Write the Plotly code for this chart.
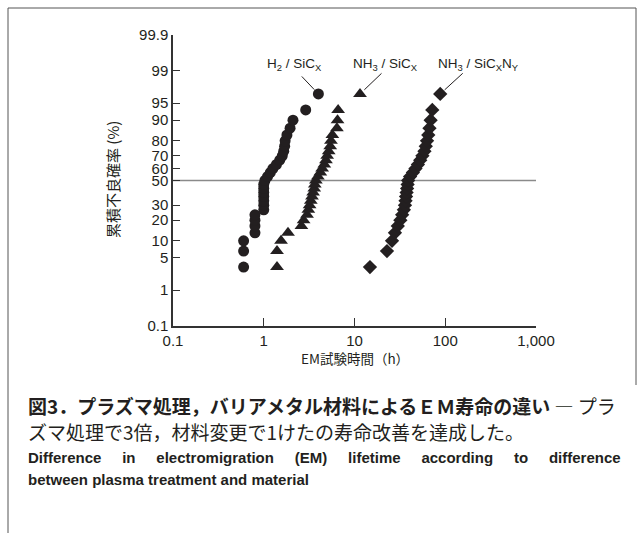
import math
import plotly.graph_objects as go
from statistics import NormalDist

# ---------------- data ----------------
# cumulative failure probability (%) – median ranks, 29 samples per series
h2_pct = [3.3, 6.7, 10.0, 13.3, 16.7, 20.0, 23.3, 26.7, 30.0, 33.3, 36.7, 40.0, 43.3, 46.7, 50.0,
          53.3, 56.7, 60.0, 63.3, 66.7, 70.0, 73.3, 76.7, 80.0, 83.3, 86.7, 90.0, 93.3, 96.7]
h2_time = [0.60, 0.60, 0.60, 0.80, 0.80, 0.80, 0.80, 1.00, 1.00, 1.00, 1.00, 1.00, 1.00, 1.00, 1.03,
           1.10, 1.18, 1.26, 1.38, 1.50, 1.60, 1.66, 1.70, 1.72, 1.80, 1.95, 2.10, 2.90, 4.00]

nh3_sicx_pct = [3.3, 6.7, 10.0, 13.3, 16.7, 20.0, 23.3, 26.7, 30.0, 33.3, 36.7, 40.0, 43.3, 46.7, 50.0,
                53.3, 56.7, 60.0, 63.3, 66.7, 70.0, 73.3, 76.7, 80.0, 83.3, 86.7, 90.0, 93.3, 96.7]
nh3_sicx_time = [1.40, 1.40, 1.55, 1.85, 2.60, 2.75, 3.00, 3.10, 3.20, 3.30, 3.40, 3.50, 3.60, 3.65, 3.75,
                 3.95, 4.20, 4.40, 4.65, 4.85, 5.00, 5.20, 5.40, 5.50, 5.70, 6.40, 6.50, 6.60, 11.5]

nh3_sicxny_pct = [3.3, 6.7, 10.0, 13.3, 16.7, 20.0, 23.3, 26.7, 30.0, 33.3, 36.7, 40.0, 43.3, 46.7, 50.0,
                  53.3, 56.7, 60.0, 63.3, 66.7, 70.0, 73.3, 76.7, 80.0, 83.3, 86.7, 90.0, 93.3, 96.7]
nh3_sicxny_time = [14.8, 22.8, 25.9, 27.9, 30.0, 32.0, 33.5, 35.0, 36.0, 36.5, 37.0, 37.5, 38.0, 38.5, 39.0,
                   41.0, 44.0, 47.0, 50.0, 53.0, 56.0, 59.0, 61.0, 63.0, 65.0, 67.0, 69.0, 72.0, 88.0]

y_tick_pct = [0.1, 1, 5, 10, 20, 30, 50, 60, 70, 80, 90, 95, 99, 99.9]
y_tick_text = ["0.1", "1", "5", "10", "20", "30", "50", "60", "70", "80", "90", "95", "99", "99.9"]
x_tick_vals = [0.1, 1, 10, 100, 1000]
x_tick_text = ["0.1", "1", "10", "100", "1,000"]
median_pct = 50

series_labels = ["H<sub>2</sub> / SiC<sub>X</sub>",
                 "NH<sub>3</sub> / SiC<sub>X</sub>",
                 "NH<sub>3</sub> / SiC<sub>X</sub>N<sub>Y</sub>"]

# ---------------- probability (normal) scale ----------------
nd = NormalDist()


def probit(p):
    return nd.inv_cdf(p / 100.0)


INK = "#231f20"
W, H = 644, 533
PL, PR, PT, PB = 173, 536, 35, 326  # plot area in pixels

fig = go.Figure()

series = [
    (h2_time, h2_pct, "circle", 11),
    (nh3_sicx_time, nh3_sicx_pct, "triangle-up", 12),
    (nh3_sicxny_time, nh3_sicxny_pct, "diamond", 11),
]
for (t, p, sym, sz), name in zip(series, series_labels):
    fig.add_trace(go.Scatter(
        x=t, y=[probit(v) for v in p], mode="markers", name=name,
        marker=dict(symbol=sym, size=sz, color=INK, line=dict(width=0)),
        showlegend=False, cliponaxis=False))

# 50 % reference line
fig.add_shape(type="line", xref="x domain", yref="y", x0=0, x1=1,
              y0=probit(median_pct), y1=probit(median_pct),
              line=dict(color="#8a8a8a", width=1.3), layer="below")

ymin, ymax = probit(y_tick_pct[0]), probit(y_tick_pct[-1])

fig.update_layout(
    width=W, height=H,
    margin=dict(l=0, r=0, t=0, b=0, autoexpand=False),
    paper_bgcolor="white", plot_bgcolor="white",
    font=dict(family="Liberation Sans, Arial, sans-serif", color="#231f20", size=15),
    xaxis=dict(type="log", range=[-1, 3], domain=[PL / W, PR / W], automargin=False,
               tickvals=x_tick_vals, ticktext=x_tick_text,
               ticks="inside", ticklen=8, tickwidth=1.2, tickcolor="#333",
               showline=True, linecolor="#333", linewidth=1.5,
               showgrid=False, zeroline=False, tickfont=dict(size=15)),
    yaxis=dict(range=[ymin, ymax], domain=[1 - PB / H, 1 - PT / H], automargin=False,
               tickvals=[probit(v) for v in y_tick_pct], ticktext=y_tick_text,
               ticks="inside", ticklen=7, tickwidth=1.2, tickcolor="#333",
               showline=True, linecolor="#333", linewidth=1.5,
               showgrid=False, zeroline=False, tickfont=dict(size=15)),
)

# axis titles
fig.add_annotation(text="EM試験時間（h）", xref="paper", yref="paper",
                   x=355 / W, y=1 - 370 / H, showarrow=False,
                   font=dict(family="Noto Sans CJK JP", size=13.5, color=INK))
fig.add_annotation(text="累積不良確率 (%)", xref="paper", yref="paper",
                   x=112 / W, y=1 - 180 / H, xanchor="center", yanchor="middle",
                   showarrow=False, textangle=-90,
                   font=dict(family="Noto Sans CJK JP", size=15, color=INK))

# series labels with leader lines
label_pos = [(0.344, 2.46), (1.347, 2.46), (2.361, 2.46)]
leaders = [(h2_time[-1], h2_pct[-1], -18, -19),
           (nh3_sicx_time[-1], nh3_sicx_pct[-1], 23, -22),
           (nh3_sicxny_time[-1], nh3_sicxny_pct[-1], 24, -22)]
for name, (lx, ly) in zip(series_labels, label_pos):
    fig.add_annotation(text=name, x=lx, y=ly, xref="x", yref="y", showarrow=False,
                       font=dict(family="Liberation Sans, Arial", size=13.5, color=INK))
for (t, p, ax, ay) in leaders:
    fig.add_annotation(text="", x=math.log10(t), y=probit(p), xref="x", yref="y",
                       showarrow=True, arrowhead=0, arrowwidth=1, arrowcolor=INK,
                       ax=ax, ay=ay, standoff=6)

# frame
fr = dict(color="#555", width=1)
fig.add_shape(type="line", xref="paper", yref="paper", x0=8 / W, x1=636 / W,
              y0=1 - 8 / H, y1=1 - 8 / H, line=fr)
fig.add_shape(type="line", xref="paper", yref="paper", x0=8 / W, x1=8 / W,
              y0=1 - 8 / H, y1=0, line=fr)
fig.add_shape(type="line", xref="paper", yref="paper", x0=636 / W, x1=636 / W,
              y0=1 - 8 / H, y1=1 - 385 / H, line=fr)

# caption
sp = "&nbsp;" * 4
cap = [
    ("<b>図3．プラズマ処理，バリアメタル材料によるＥＭ寿命の違い</b> ― プラ", 405,
     "Noto Sans CJK JP", 19),
    ("ズマ処理で3倍，材料変更で1けたの寿命改善を達成した。", 431, "Noto Sans CJK JP", 19),
    ("<b>" + (" " + sp).join("Difference in electromigration (EM) lifetime according to difference".split(" "))
     + "</b>", 457, "Liberation Sans, Arial", 15),
    ("<b>between plasma treatment and material</b>", 479, "Liberation Sans, Arial", 15),
]
for txt, yy, fam, fs in cap:
    fig.add_annotation(text=txt, xref="paper", yref="paper", x=26 / W, y=1 - yy / H,
                       xanchor="left", yanchor="middle", showarrow=False,
                       font=dict(family=fam, size=fs, color=INK))

fig.write_html("out.html")
